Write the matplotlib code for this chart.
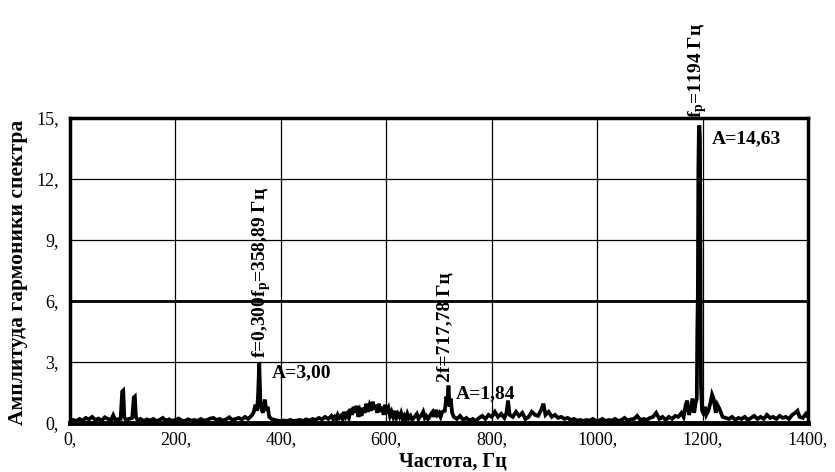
import matplotlib
matplotlib.use("Agg")
import matplotlib.pyplot as plt

plt.rcParams['font.family'] = ['Liberation Serif', 'DejaVu Serif']
plt.rcParams['mathtext.fontset'] = 'custom'
plt.rcParams['mathtext.rm'] = 'Liberation Serif:bold'
plt.rcParams['mathtext.bf'] = 'Liberation Serif:bold'
plt.rcParams['mathtext.it'] = 'Liberation Serif:bold'

# ---- data ----
freq_a = [0, 6, 12, 18, 24, 30, 36, 42, 48, 54, 60, 66, 72, 78, 82, 86, 90, 96, 99, 101, 103,
          106, 112, 118, 121, 123, 125, 128, 134, 140, 146, 152, 158, 164, 170, 176, 182, 188,
          194, 200, 206, 212, 218, 224, 230, 236, 242, 248, 254, 260, 266, 272, 278, 284, 290,
          296, 302, 308, 314, 320, 326, 332, 338, 344, 348]
amp_a = [0.05, 0.15, 0.1, 0.2, 0.12, 0.25, 0.18, 0.3, 0.15, 0.22, 0.12, 0.28, 0.2, 0.15, 0.38,
         0.15, 0.18, 0.2, 1.55, 1.6, 0.3, 0.15, 0.2, 0.25, 1.25, 1.3, 0.3, 0.15, 0.2, 0.1, 0.18,
         0.12, 0.2, 0.1, 0.15, 0.25, 0.12, 0.18, 0.1, 0.15, 0.22, 0.12, 0.1, 0.18, 0.12, 0.15,
         0.1, 0.2, 0.12, 0.15, 0.22, 0.25, 0.15, 0.2, 0.12, 0.18, 0.28, 0.15, 0.2, 0.25, 0.18,
         0.3, 0.2, 0.35, 0.5]

freq_b = [352, 355, 357, 359, 361, 363, 366, 368, 370, 372, 375, 378, 382, 388, 394, 400]
amp_b = [0.9, 0.6, 1.5, 3.0, 1.2, 0.7, 0.5, 0.9, 1.15, 0.6, 0.8, 0.3, 0.2, 0.15, 0.12, 0.1]

freq_c = [406, 412, 418, 424, 430, 436, 442, 448, 454, 460, 466, 472, 478, 484, 490,
          496, 499, 502, 505, 508, 511, 514, 517, 520, 523, 526, 529, 532, 535, 538, 541, 544,
          547, 550, 553, 556, 559, 562, 565, 568, 571, 574, 577, 580, 583, 586, 589, 592, 595,
          598, 601, 604, 607, 610, 613, 616, 619, 622, 625, 628, 631, 634, 637, 640, 643, 646,
          649, 652, 655, 658, 661, 664, 667, 670, 673, 676, 679, 682, 685, 688, 691, 694, 697,
          700, 703, 706]
amp_c = [0.12, 0.1, 0.15, 0.1, 0.12, 0.15, 0.1, 0.18, 0.12, 0.2, 0.15, 0.25, 0.18, 0.3, 0.2,
         0.35, 0.2, 0.3, 0.15, 0.4, 0.25, 0.35, 0.2, 0.55, 0.3, 0.45, 0.25, 0.7, 0.4, 0.8, 0.5,
         0.85, 0.3, 0.6, 0.35, 0.75, 0.5, 0.95, 0.55, 0.85, 0.6, 1.05, 0.65, 0.9, 0.5, 0.95,
         0.55, 0.8, 0.4, 0.9, 0.6, 0.75, 0.35, 0.55, 0.3, 0.6, 0.25, 0.45, 0.3, 0.5, 0.2, 0.35,
         0.15, 0.45, 0.25, 0.35, 0.15, 0.25, 0.35, 0.45, 0.2, 0.3, 0.4, 0.55, 0.25, 0.35, 0.2,
         0.3, 0.45, 0.55, 0.3, 0.65, 0.4, 0.5, 0.3, 0.55]

freq_d = [711, 714, 716, 718, 720, 722, 725, 728]
amp_d = [0.6, 1.3, 1.0, 1.84, 0.8, 1.2, 0.5, 0.3]

freq_e = [734, 740, 746, 752, 758, 764, 770, 776, 782, 788, 794, 800, 806, 812, 818, 824, 828,
          831, 834, 840, 846, 852, 858, 864, 870, 876, 882, 888, 894, 898, 902, 908, 914, 920,
          926, 932, 938, 944, 950, 956, 962, 968, 974, 980, 986, 992, 998, 1004, 1010, 1016,
          1022, 1028, 1034, 1040, 1046, 1052, 1058, 1064, 1070, 1076, 1082, 1088, 1094, 1100,
          1106, 1112, 1118, 1124, 1130, 1136, 1142, 1148]
amp_e = [0.2, 0.35, 0.15, 0.25, 0.12, 0.2, 0.1, 0.25, 0.35, 0.2, 0.4, 0.3, 0.55, 0.3, 0.45,
         0.25, 0.5, 1.1, 0.4, 0.3, 0.55, 0.35, 0.5, 0.2, 0.3, 0.55, 0.4, 0.35, 0.65, 0.95, 0.4,
         0.55, 0.3, 0.4, 0.25, 0.3, 0.2, 0.25, 0.15, 0.2, 0.12, 0.15, 0.1, 0.15, 0.12, 0.2, 0.1,
         0.12, 0.2, 0.1, 0.15, 0.12, 0.2, 0.1, 0.15, 0.25, 0.12, 0.18, 0.2, 0.35, 0.15, 0.2,
         0.15, 0.25, 0.3, 0.5, 0.2, 0.3, 0.15, 0.3, 0.2, 0.35]

freq_f = [1154, 1160, 1164, 1168, 1171, 1174, 1178, 1181, 1184, 1187, 1189, 1190, 1191, 1192,
          1193, 1194, 1195, 1196, 1197, 1199, 1201, 1204, 1207, 1211, 1215, 1218, 1221, 1225,
          1228, 1232, 1238, 1244]
amp_f = [0.3, 0.5, 0.3, 0.9, 1.1, 0.4, 0.7, 1.2, 0.5, 1.0, 1.2, 4.5, 6.3, 12.5, 14.4, 14.63,
         14.0, 8.0, 1.8, 0.6, 0.5, 0.8, 0.4, 0.6, 1.0, 1.4, 1.2, 0.5, 0.9, 0.7, 0.3, 0.25]

freq_g = [1250, 1256, 1262, 1268, 1274, 1280, 1286, 1292, 1298, 1304, 1310, 1316, 1322, 1328,
          1334, 1340, 1346, 1352, 1358, 1364, 1370, 1376, 1380, 1384, 1390, 1396, 1400]
amp_g = [0.2, 0.3, 0.15, 0.25, 0.2, 0.3, 0.15, 0.25, 0.35, 0.2, 0.3, 0.2, 0.4, 0.25, 0.3, 0.2,
         0.35, 0.25, 0.3, 0.2, 0.4, 0.5, 0.6, 0.3, 0.25, 0.45, 0.3]

freq = freq_a + freq_b + freq_c + freq_d + freq_e + freq_f + freq_g
amp = amp_a + amp_b + amp_c + amp_d + amp_e + amp_f + amp_g

xticks = [0, 200, 400, 600, 800, 1000, 1200, 1400]
xtick_labels = ["0,", "200,", "400,", "600,", "800,", "1000,", "1200,", "1400,"]
yticks = [0, 3, 6, 9, 12, 15]
ytick_labels = ["0,", "3,", "6,", "9,", "12,", "15,"]

# ---- figure ----
fig = plt.figure(figsize=(8.35, 4.72), dpi=100)
ax = fig.add_axes([70 / 835, 1 - 423 / 472, 738 / 835, 305 / 472])

ax.plot(freq, amp, color='black', lw=2.7, solid_joinstyle='miter', zorder=3)

ax.set_xlim(0, 1400)
ax.set_ylim(0, 15)
ax.set_xticks(xticks)
ax.set_xticklabels(xtick_labels, fontsize=13)
ax.set_yticks(yticks)
ax.set_yticklabels(ytick_labels, fontsize=13)
ax.tick_params(length=0, pad=6)
ax.tick_params(axis='y', pad=8)

for y in yticks[1:]:
    ax.axhline(y, color='black', lw=2.0 if y in (6, 15) else 0.9, zorder=1)
for x in xticks[1:-1]:
    ax.axvline(x, color='black', lw=0.9, zorder=1)

for s in ax.spines.values():
    s.set_linewidth(2.5)
ax.spines['bottom'].set_linewidth(3.5)

fig.text(18 / 835, 1 - 272 / 472,
         "Амплитуда гармоники спектра", rotation=90, ha='center', va='center',
         fontsize=15.5, fontweight='bold')
fig.text(453 / 835, 1 - 461 / 472, "Частота, Гц", ha='center', va='center',
         fontsize=14.5, fontweight='bold')

# ---- annotations ----
ann_size = 14
ax.text(364, 3.2, r"f=0,300f$_{\rm p}$=358,89 Гц", rotation=90, ha='center', va='bottom',
        fontsize=ann_size, fontweight='bold', zorder=4)
ax.text(383, 2.45, "A=3,00", ha='left', va='center', fontsize=ann_size, fontweight='bold', zorder=4)
ax.text(711, 2.0, "2f=717,78 Гц", rotation=90, ha='center', va='bottom',
        fontsize=ann_size, fontweight='bold', zorder=4)
ax.text(732, 1.45, "A=1,84", ha='left', va='center', fontsize=ann_size, fontweight='bold', zorder=4)
ax.text(1191, 15.0, r"f$_{\rm p}$=1194 Гц", rotation=90, ha='center', va='bottom',
        fontsize=ann_size, fontweight='bold', clip_on=False, zorder=4)
ax.text(1218, 14.0, "A=14,63", ha='left', va='center', fontsize=ann_size, fontweight='bold', zorder=4)

fig.savefig("out.png", dpi=100)
